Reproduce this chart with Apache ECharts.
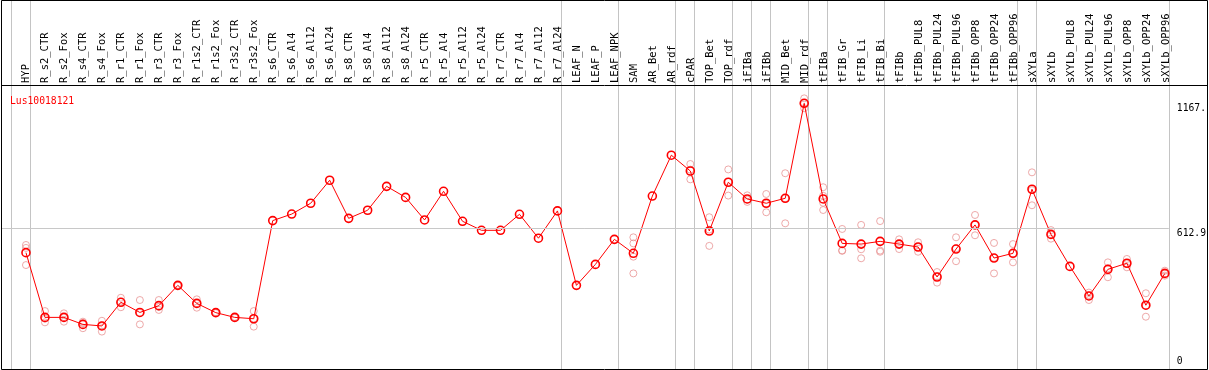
<!DOCTYPE html>
<html>
<head>
<meta charset="utf-8">
<script src="https://cdn.jsdelivr.net/npm/echarts@6/dist/echarts.min.js"></script>
<style>
html,body{margin:0;padding:0;background:#fff;}
#chart{width:1209px;height:370px;}
</style>
</head>
<body>
<div id="chart"></div>
<script>
const title = 'Lus10018121';
const categories = ['HYP','R_s2_CTR','R_s2_Fox','R_s4_CTR','R_s4_Fox','R_r1_CTR','R_r1_Fox','R_r3_CTR','R_r3_Fox','R_r1s2_CTR','R_r1s2_Fox','R_r3s2_CTR','R_r3s2_Fox','R_s6_CTR','R_s6_Al4','R_s6_Al12','R_s6_Al24','R_s8_CTR','R_s8_Al4','R_s8_Al12','R_s8_Al24','R_r5_CTR','R_r5_Al4','R_r5_Al12','R_r5_Al24','R_r7_CTR','R_r7_Al4','R_r7_Al12','R_r7_Al24','LEAF_N','LEAF_P','LEAF_NPK','SAM','AR_Bet','AR_rdf','cPAR','TOP_Bet','TOP_rdf','iFIBa','iFIBb','MID_Bet','MID_rdf','tFIBa','tFIB_Gr','tFIB_Li','tFIB_Bi','tFIBb','tFIBb_PUL8','tFIBb_PUL24','tFIBb_PUL96','tFIBb_OPP8','tFIBb_OPP24','tFIBb_OPP96','sXYLa','sXYLb','sXYLb_PUL8','sXYLb_PUL24','sXYLb_PUL96','sXYLb_OPP8','sXYLb_OPP24','sXYLb_OPP96'];
const means = [505,218,218,187,180,285,240,270,360,280,239,218,212,647,676,724,826,657,693,799,750,650,777,644,604,604,675,569,690,360,453,564,502,756,937,867,601,817,743,724,746,1167,743,546,543,555,543,530,397,521,628,481,502,786,586,444,313,431,458,272,413];
const replicates = [
  [539,526,450],[246,212,196],[236,219,199],[199,192,170],[203,182,155],[305,287,263],[295,238,187],[295,264,251],[362,360,358],[298,281,261],[241,239,237],[220,218,216],[246,213,177],
  [],[],[],[],[],[],[],[],[],[],[],[],[],[],[],[],[],[],[],
  [573,546,487,413],[],[],[898,873,830],[662,607,535],[874,819,758],[759,740,730],[765,722,684],[857,746,635],[1189,1167,1145],[795,757,726,694],[610,515,513],[628,520,480],[645,514,509],[564,543,521],[551,530,509],[419,400,372],[573,524,467],[672,629,582],[548,482,413],[543,501,462],[861,782,715],[605,586,567],[],[328,316,295],[462,435,396],[477,457,440],[325,270,221],[425,412,403]
];
// index of the last category in each group (group separators)
const groupEnds = [-1,0,28,31,34,35,37,38,39,41,42,45,52,53,60];
const yTickValues = [0, 612.9, 1167];
const yTickLabels = ['0', '612.9', '1167.'];
const refLine = 612.9;

const FONT = 'DejaVu Sans Mono';
const Y_MIN = -10.8, Y_MAX = 1625;
const X_MIN = -25/19, X_MAX = 1144/19;
const meanData = means.map((v, i) => [i, v]);
const repData = [];
replicates.forEach((arr, i) => arr.forEach(v => repData.push([i, v])));
const labelFor = v => { const k = yTickValues.indexOf(v); return k >= 0 ? yTickLabels[k] : ''; };

const frame = [
  {type: 'rect', shape: {x: 1.5, y: 0.5, width: 1206, height: 369}, style: {fill: 'rgba(0,0,0,0)', stroke: '#000', lineWidth: 1}, z: 100, silent: true},
  {type: 'line', shape: {x1: 1, y1: 85.5, x2: 1208, y2: 85.5}, style: {stroke: '#000', lineWidth: 1}, z: 100, silent: true}
];

const chart = echarts.init(document.getElementById('chart'), null, {renderer: 'canvas'});
chart.setOption({
  animation: false,
  backgroundColor: '#fff',
  title: {
    text: title, left: 5, top: 91,
    textStyle: {color: '#ff0000', fontFamily: FONT, fontSize: 9.7, fontWeight: 'normal'}
  },
  grid: [
    {left: 1, top: 0, width: 1169, height: 369},
    {left: 16.5, top: 85, width: 1159, height: 1}
  ],
  xAxis: [
    {type: 'value', gridIndex: 0, min: X_MIN, max: X_MAX,
     axisLine: {show: false}, axisTick: {show: false}, axisLabel: {show: false}, splitLine: {show: false}},
    {type: 'category', gridIndex: 1, position: 'top', data: categories, boundaryGap: true,
     axisLine: {show: false}, axisTick: {show: false}, splitLine: {show: false},
     axisLabel: {interval: 0, rotate: 90, margin: 2, color: '#000', fontFamily: FONT, fontSize: 10.5}}
  ],
  yAxis: [
    {type: 'value', gridIndex: 0, position: 'right', min: Y_MIN, max: Y_MAX,
     axisLine: {show: false}, axisTick: {show: false}, splitLine: {show: false},
     axisLabel: {customValues: [yTickValues[1], yTickValues[2]], formatter: labelFor, margin: 8,
       verticalAlign: 'top', align: 'left', color: '#000', fontFamily: FONT, fontSize: 9.7}},
    {type: 'value', gridIndex: 0, position: 'right', min: Y_MIN, max: Y_MAX,
     axisLine: {show: false}, axisTick: {show: false}, splitLine: {show: false},
     axisLabel: {customValues: [yTickValues[0]], formatter: labelFor, margin: 8,
       verticalAlign: 'bottom', align: 'left', color: '#000', fontFamily: FONT, fontSize: 9.7}},
    {type: 'value', gridIndex: 1, show: false}
  ],
  graphic: frame,
  series: [
    {
      type: 'scatter', xAxisIndex: 0, yAxisIndex: 0, data: repData,
      symbol: 'circle', symbolSize: 7, z: 2, silent: true,
      itemStyle: {color: 'rgba(0,0,0,0)', borderColor: '#e89494', borderWidth: 1},
      markLine: {
        silent: true, symbol: 'none', animation: false,
        label: {show: false},
        lineStyle: {color: '#c8c8c8', type: 'solid', width: 1},
        data: [[{coord: [X_MIN, refLine]}, {coord: [X_MAX, refLine]}]]
      }
    },
    {
      type: 'line', xAxisIndex: 0, yAxisIndex: 0, data: meanData,
      symbol: 'circle', symbolSize: 8, showAllSymbol: true, z: 3, silent: true,
      lineStyle: {color: '#ff0000', width: 1},
      itemStyle: {color: 'rgba(0,0,0,0)', borderColor: '#ff0000', borderWidth: 1.6}
    }
  ]
});

// group separator lines, positioned through the chart's own x scale
const seps = groupEnds.map(g => {
  const top = chart.convertToPixel({xAxisIndex: 0, yAxisIndex: 0}, [g + 4/19, Y_MAX]);
  const bot = chart.convertToPixel({xAxisIndex: 0, yAxisIndex: 0}, [g + 4/19, Y_MIN]);
  const px = Math.round(top[0]) + 0.5;
  return {type: 'line', shape: {x1: px, y1: top[1], x2: px, y2: bot[1]},
          style: {stroke: '#c4c4c4', lineWidth: 1}, z: 0, silent: true};
});
chart.setOption({graphic: frame.concat(seps)}, {replaceMerge: ['graphic']});
</script>
</body>
</html>
